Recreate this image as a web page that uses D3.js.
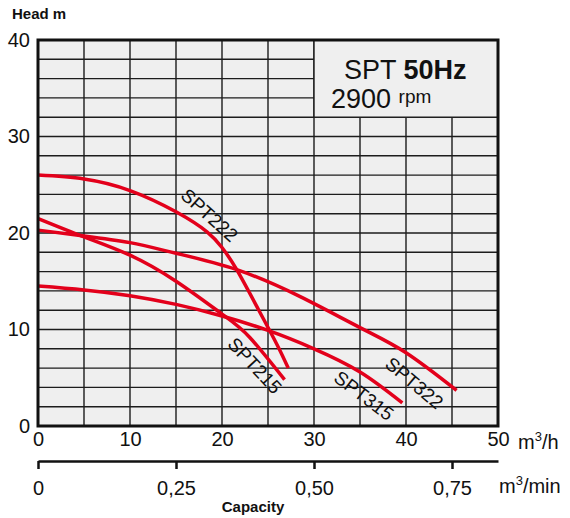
<!DOCTYPE html>
<html>
<head>
<meta charset="utf-8">
<script src="https://cdn.jsdelivr.net/npm/d3@7"></script>
<style>
  body { margin: 0; background: #fff; }
  text { font-family: "Liberation Sans", Arial, sans-serif; fill: #111; }
</style>
</head>
<body>
<svg id="chart" width="570" height="518"></svg>
<script>
// Pump curves: capacity (m3/h) and head (m)
const spt222Q = [0, 5, 10, 15, 18.4, 20, 21.6, 24, 26, 27.2];
const spt222H = [26.0, 25.6, 24.4, 22.2, 20.1, 18.5, 16.2, 12.0, 8.4, 6.0];
const spt215Q = [0, 5, 10, 15, 20, 23, 26.8];
const spt215H = [21.5, 19.6, 17.7, 15.0, 11.6, 9.2, 4.8];
const spt322Q = [0, 5, 10, 15, 21.6, 28.5, 35, 40, 45.5];
const spt322H = [20.3, 19.7, 19.0, 17.9, 16.2, 13.4, 10.2, 7.6, 3.7];
const spt315Q = [0, 5, 10, 15, 20, 25, 30, 35, 39.6];
const spt315H = [14.5, 14.1, 13.5, 12.6, 11.4, 9.9, 8.0, 5.6, 2.4];

const curveNames = ["SPT222", "SPT215", "SPT322", "SPT315"];
const curveQ = [spt222Q, spt215Q, spt322Q, spt315Q];
const curveH = [spt222H, spt215H, spt322H, spt315H];

// Tick labels
const capTicks = [0, 10, 20, 30, 40, 50];
const headTicks = [0, 10, 20, 30, 40];
const minTicks = [0, 0.25, 0.5, 0.75];

const svg = d3.select("#chart");

// SCALES
const xScale = d3.scaleLinear().domain([0, 50]).range([38, 498]);
const yScale = d3.scaleLinear().domain([0, 40]).range([426, 40]);
const minScale = d3.scaleLinear().domain([0, 50 / 60]).range([38, 498]);

// Plot background
svg.append("rect")
  .attr("x", xScale(0)).attr("y", yScale(40))
  .attr("width", xScale(50) - xScale(0))
  .attr("height", yScale(0) - yScale(40))
  .attr("fill", "#efefef");

// Grid
const grid = svg.append("g").attr("stroke", "#1c1c1c").attr("stroke-width", 1.4);
grid.selectAll(".v")
  .data(d3.range(5, 50, 5))
  .join("line")
  .attr("x1", (d) => xScale(d)).attr("x2", (d) => xScale(d))
  .attr("y1", yScale(0)).attr("y2", yScale(40));
grid.selectAll(".h")
  .data(d3.range(2, 40, 2))
  .join("line")
  .attr("x1", xScale(0)).attr("x2", xScale(50))
  .attr("y1", (d) => yScale(d)).attr("y2", (d) => yScale(d));

// Legend box
svg.append("rect")
  .attr("x", xScale(30)).attr("y", yScale(40))
  .attr("width", xScale(50) - xScale(30))
  .attr("height", yScale(32) - yScale(40))
  .attr("fill", "#efefef")
  .attr("stroke", "#1c1c1c")
  .attr("stroke-width", 1.4);

const title = svg.append("text").attr("x", 344).attr("y", 79).attr("font-size", 27);
title.append("tspan").text("SPT ");
title.append("tspan").attr("font-weight", "bold").text("50Hz");
const rpm = svg.append("text").attr("x", 331).attr("y", 108).attr("font-size", 27);
rpm.append("tspan").text("2900 ");
rpm.append("tspan").attr("font-size", 19).attr("dy", -5).text("rpm");

// Curves
const line = d3.line()
  .x((d) => xScale(d[0]))
  .y((d) => yScale(d[1]))
  .curve(d3.curveNatural);

svg.append("g")
  .selectAll("path")
  .data(curveQ.map((qs, i) => qs.map((q, j) => [q, curveH[i][j]])))
  .join("path")
  .attr("d", line)
  .attr("fill", "none")
  .attr("stroke", "#e3001b")
  .attr("stroke-width", 3.5);

// Curve labels
const labelPos = [
  { x: 205, y: 220, a: 42 },
  { x: 250, y: 370, a: 47 },
  { x: 410, y: 388, a: 40 },
  { x: 360, y: 401, a: 37 },
];
svg.append("g")
  .selectAll("text")
  .data(curveNames)
  .join("text")
  .attr("transform", (d, i) => `translate(${labelPos[i].x},${labelPos[i].y}) rotate(${labelPos[i].a})`)
  .attr("text-anchor", "middle")
  .attr("font-size", 19)
  .text((d) => d);

// Frame
svg.append("rect")
  .attr("x", xScale(0)).attr("y", yScale(40))
  .attr("width", xScale(50) - xScale(0))
  .attr("height", yScale(0) - yScale(40))
  .attr("fill", "none")
  .attr("stroke", "#111")
  .attr("stroke-width", 3);

// Axes
const yAxis = svg.append("g")
  .attr("transform", `translate(${xScale(0) - 1},0)`)
  .call(d3.axisLeft(yScale).tickValues(headTicks).tickSize(0).tickPadding(7));
yAxis.select(".domain").remove();
yAxis.selectAll("text").attr("font-size", 20).attr("font-family", "Liberation Sans");

const xAxis = svg.append("g")
  .attr("transform", `translate(0,${yScale(0) + 2})`)
  .call(d3.axisBottom(xScale).tickValues(capTicks).tickSize(0).tickPadding(4));
xAxis.select(".domain").remove();
xAxis.selectAll("text").attr("font-size", 20).attr("font-family", "Liberation Sans");

const minAxis = svg.append("g")
  .attr("transform", "translate(0,461)")
  .call(d3.axisBottom(minScale).tickValues(minTicks).tickSizeInner(8).tickSizeOuter(0).tickPadding(12)
    .tickFormat((d) => (d === 0 ? "0" : d3.format(".2f")(d).replace(".", ","))));
minAxis.select(".domain").attr("stroke", "#111").attr("stroke-width", 2.5);
minAxis.selectAll("line").attr("stroke", "#111").attr("stroke-width", 2.5);
minAxis.selectAll("text").attr("font-size", 20).attr("font-family", "Liberation Sans");

// Unit labels
const unitH = svg.append("text").attr("x", 518).attr("y", 449).attr("font-size", 20);
unitH.append("tspan").text("m");
unitH.append("tspan").attr("font-size", 13).attr("dy", -8).text("3");
unitH.append("tspan").attr("dy", 8).text("/h");

const unitMin = svg.append("text").attr("x", 499).attr("y", 493).attr("font-size", 20);
unitMin.append("tspan").text("m");
unitMin.append("tspan").attr("font-size", 13).attr("dy", -8).text("3");
unitMin.append("tspan").attr("dy", 8).text("/min");

svg.append("text").attr("x", 12).attr("y", 19)
  .attr("font-size", 15).attr("font-weight", "bold").text("Head m");
svg.append("text").attr("x", 253).attr("y", 512).attr("text-anchor", "middle")
  .attr("font-size", 15).attr("font-weight", "bold").text("Capacity");
</script>
</body>
</html>
